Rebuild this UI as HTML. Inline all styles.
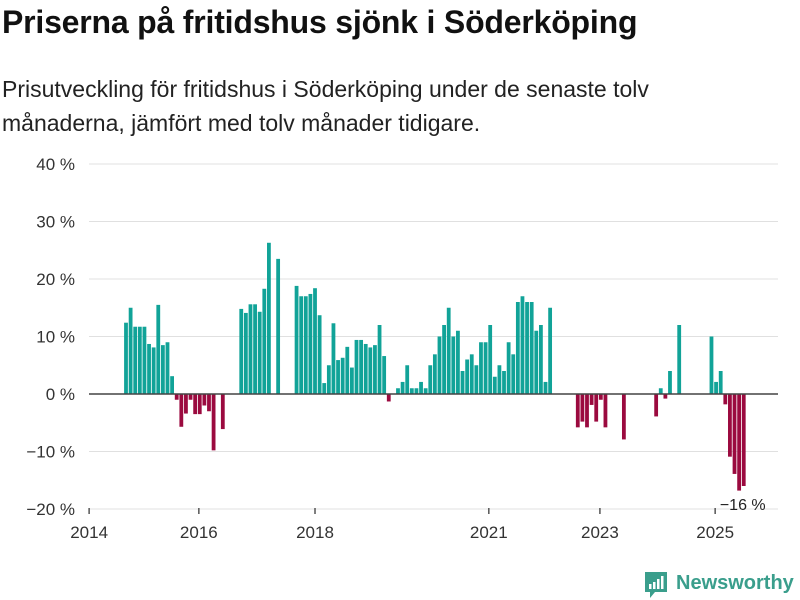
<!DOCTYPE html>
<html><head><meta charset="utf-8"><style>
body{margin:0;background:#fff;width:800px;height:600px;overflow:hidden;font-family:"Liberation Sans","DejaVu Sans",sans-serif;}
h1{position:absolute;left:2px;top:4px;margin:0;font-size:32px;font-weight:bold;color:#111;letter-spacing:-0.2px;white-space:nowrap}
p{position:absolute;left:2px;top:72px;margin:0;font-size:23px;line-height:34px;color:#222;width:710px}
svg{position:absolute;left:0;top:0}
</style></head><body>
<h1>Priserna på fritidshus sjönk i Söderköping</h1>
<p>Prisutveckling för fritidshus i Söderköping under de senaste tolv månaderna, jämfört med tolv månader tidigare.</p>
<svg id="chart" width="800" height="600"></svg>
<script>
const yTicks=[40,30,20,10,0,-10,-20];
const yTickLabels=["40 %","30 %","20 %","10 %","0 %","−10 %","−20 %"];
const xTickIdx=[-1,22.8,48,85.7,109.8,134.8];
const xTickLabels=["2014","2016","2018","2021","2023","2025"];
const N=null;
const values=[N,N,N,N,N,N,N,
12.4,15,11.7,11.7,11.7,8.7,8.1,15.5,8.5,9,3.1,
-1,-5.7,-3.4,-1,-3.5,-3.5,-2,-3,-9.8,
N,-6.1,N,N,N,
14.8,14.1,15.6,15.6,14.3,18.3,26.3,N,23.5,N,N,N,
18.8,17,17,17.4,18.4,13.7,1.9,5,12.3,5.9,6.3,8.2,4.6,9.4,9.4,8.7,8.1,8.5,12,6.6,-1.3,
N,1,2.1,5,1,1,2.1,1,5,6.9,10,12,15,10,11,4,
6,6.9,5,9,9,12,3,5,4,9,6.9,16,17,16,16,11,12,2.1,15,
N,N,N,N,N,-5.8,-4.8,-5.8,-1.9,-4.8,-1,-5.8,N,N,N,-7.9,
N,N,N,N,N,N,-3.9,1,-0.8,4,N,12,N,N,N,N,N,N,10,2.1,4,-1.8,-10.9,-13.9,-16.8,-16];
const lastLabel="−16 %";
const svg=document.getElementById('chart');
const NS='http://www.w3.org/2000/svg';
const y=v=>394-v*5.75;
const x=i=>126+(i-7)*4.61;
function mk(t,a){const e=document.createElementNS(NS,t);for(const k in a)e.setAttribute(k,a[k]);svg.appendChild(e);return e;}
yTicks.forEach((t,k)=>{
 if(t!==0){const g=mk('line',{x1:89,x2:778,y1:y(t),y2:y(t),stroke:'#e0e0e0','stroke-width':1});
 
 }
 const tx=mk('text',{x:75,y:y(t)+6,'text-anchor':'end','font-size':17,fill:'#333'});tx.textContent=yTickLabels[k];
 
 
});
xTickIdx.forEach((t,k)=>{
 const l=mk('line',{x1:x(t),x2:x(t),y1:508,y2:514,stroke:'#555','stroke-width':1.5});
 
 
 const tx=mk('text',{x:x(t),y:538,'text-anchor':'middle','font-size':17,fill:'#333'});tx.textContent=xTickLabels[k];
 
 
});
values.forEach((v,i)=>{
 if(v===null)return;
 const top=Math.min(y(v),y(0)),h=Math.abs(y(v)-y(0));
 const r=mk('rect',{x:x(i)-1.9,y:top,width:3.8,height:Math.max(h,1),fill:v>=0?'#11a398':'#9b0a3f'});
 
 
});
const zl=mk('line',{x1:89,x2:778,y1:394,y2:394,stroke:'#444','stroke-width':1.5});


const li=values.length-1;
const lb=mk('text',{x:x(li)-1,y:y(values[li])+24,'text-anchor':'middle','font-size':16,fill:'#222'});lb.textContent=lastLabel;


</script>
<svg width="800" height="600" style="pointer-events:none">
<path d="M645 572 h22 v20 h-12 l-5 6 v-6 h-5z" fill="#3a9e8c"/>
<rect x="649" y="584" width="2.5" height="5" fill="#fff"/><rect x="653" y="582" width="2.5" height="7" fill="#fff"/><rect x="657" y="579" width="2.5" height="10" fill="#fff"/><rect x="661" y="576" width="2.5" height="13" fill="#fff"/>
<text x="676" y="589" font-size="20" font-weight="bold" fill="#3a9e8c" font-family="Liberation Sans, sans-serif">Newsworthy</text>
</svg>
</body></html>
